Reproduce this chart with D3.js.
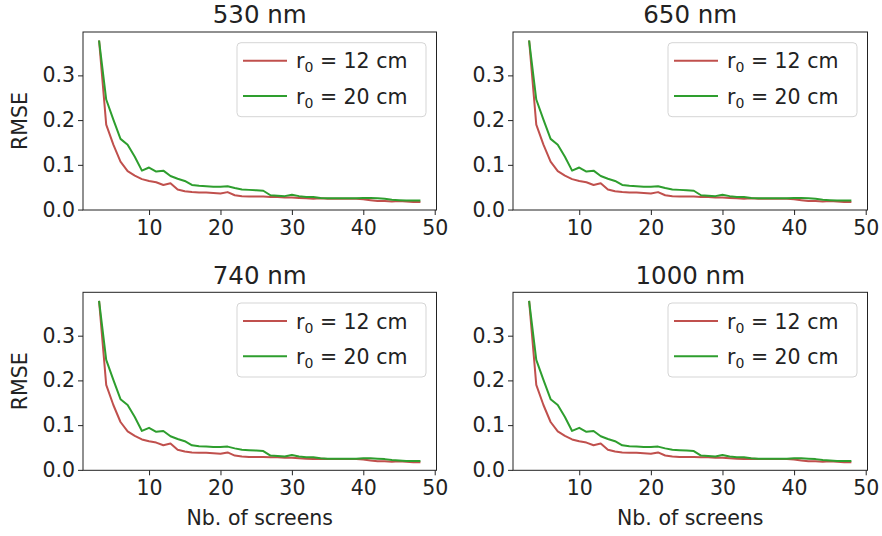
<!DOCTYPE html>
<html>
<head>
<meta charset="utf-8">
<script src="https://cdn.jsdelivr.net/npm/d3@7"></script>
<style>
  html, body { margin: 0; padding: 0; background: #fff; }
  svg { display: block; font-family: "DejaVu Sans", sans-serif; }
</style>
</head>
<body>
<svg id="chart" width="882" height="536"></svg>
<script>
// ---- data ----
const panelTitles = ["530 nm", "650 nm", "740 nm", "1000 nm"];
const screens = d3.range(3, 49); // 3..48
const rmse12 = [0.378, 0.190, 0.145, 0.107, 0.086, 0.076, 0.068, 0.064, 0.061, 0.055,
                0.059, 0.045, 0.041, 0.039, 0.038, 0.038, 0.037, 0.036, 0.039, 0.032,
                0.030, 0.029, 0.029, 0.029, 0.028, 0.028, 0.027, 0.027, 0.026, 0.025,
                0.024, 0.025, 0.024, 0.024, 0.024, 0.024, 0.024, 0.023, 0.021, 0.019,
                0.019, 0.018, 0.019, 0.018, 0.017, 0.017];
const rmse20 = [0.378, 0.246, 0.201, 0.158, 0.145, 0.118, 0.087, 0.094, 0.085, 0.087,
                0.075, 0.069, 0.064, 0.055, 0.053, 0.052, 0.051, 0.051, 0.052, 0.048,
                0.045, 0.044, 0.043, 0.042, 0.032, 0.031, 0.030, 0.033, 0.030, 0.028,
                0.028, 0.026, 0.025, 0.025, 0.025, 0.025, 0.025, 0.026, 0.026, 0.025,
                0.024, 0.022, 0.021, 0.020, 0.020, 0.020];
const seriesLabels = ["12", "20"];
const xTicks = [10, 20, 30, 40, 50];
const yTicks = [0.0, 0.1, 0.2, 0.3];
const xLabel = "Nb. of screens";
const yLabel = "RMSE";

// ---- layout ----
const colors = ["#c0504d", "#2e9e2e"];
const panels = [
  { x0: 83, x1: 436.5, y0: 32, y1: 210 },
  { x0: 513, x1: 867.5, y0: 32, y1: 210 },
  { x0: 83, x1: 436.5, y0: 292.3, y1: 470.3 },
  { x0: 513, x1: 867.5, y0: 292.3, y1: 470.3 }
];
const textColor = "#222";
const fs = 20.5;
const svg = d3.select("#chart");
const seriesData = [rmse12, rmse20];

panels.forEach((p, i) => {
  const x = d3.scaleLinear().domain([0.75, 50.25]).range([p.x0, p.x1]);
  const y = d3.scaleLinear().domain([-0.001, 0.397]).range([p.y1, p.y0]);
  const g = svg.append("g");

  // lines
  const line = d3.line().x((d, j) => x(screens[j])).y(d => y(d));
  seriesData.forEach((s, k) => {
    g.append("path").datum(s)
      .attr("fill", "none")
      .attr("stroke", colors[k])
      .attr("stroke-width", 2)
      .attr("stroke-linejoin", "round")
      .attr("d", line);
  });

  // axes
  const xAxis = d3.axisBottom(x).tickValues(xTicks).tickSize(5).tickPadding(5.5).tickFormat(d3.format("d"));
  const yAxis = d3.axisLeft(y).tickValues(yTicks).tickSize(5).tickPadding(3).tickFormat(d3.format(".1f"));
  const gx = g.append("g").attr("transform", `translate(0,${p.y1})`).call(xAxis);
  const gy = g.append("g").attr("transform", `translate(${p.x0},0)`).call(yAxis);
  [gx, gy].forEach(ax => {
    ax.select(".domain").remove();
    ax.selectAll(".tick line").attr("stroke", textColor).attr("stroke-width", 1);
    ax.selectAll(".tick text").attr("fill", textColor).style("font-size", fs + "px")
      .style("font-family", "DejaVu Sans");
  });

  // frame
  g.append("rect")
    .attr("x", p.x0).attr("y", p.y0)
    .attr("width", p.x1 - p.x0).attr("height", p.y1 - p.y0)
    .attr("fill", "none").attr("stroke", textColor).attr("stroke-width", 1);

  // title
  g.append("text")
    .attr("x", (p.x0 + p.x1) / 2).attr("y", p.y0 - 8.7)
    .attr("text-anchor", "middle").attr("fill", textColor)
    .style("font-size", "24.5px")
    .text(panelTitles[i]);

  // y label (left column)
  if (i % 2 === 0) {
    g.append("text")
      .attr("transform", `translate(${p.x0 - 56.3},${(p.y0 + p.y1) / 2}) rotate(-90)`)
      .attr("text-anchor", "middle").attr("fill", textColor)
      .style("font-size", fs + "px")
      .text(yLabel);
  }
  // x label (bottom row)
  if (i >= 2) {
    g.append("text")
      .attr("x", (p.x0 + p.x1) / 2).attr("y", p.y1 + 54.7)
      .attr("text-anchor", "middle").attr("fill", textColor)
      .style("font-size", fs + "px")
      .text(xLabel);
  }

  // legend
  const lw = 189, lh = 74;
  const lx = p.x1 - 10.5 - lw, ly = p.y0 + 10.7;
  const leg = g.append("g");
  leg.append("rect")
    .attr("x", lx).attr("y", ly).attr("width", lw).attr("height", lh)
    .attr("rx", 4).attr("ry", 4)
    .attr("fill", "#fff").attr("fill-opacity", 0.8)
    .attr("stroke", "#d5d5d5").attr("stroke-width", 1);
  seriesLabels.forEach((lab, k) => {
    const yy = ly + 18 + k * 35.3;
    leg.append("line")
      .attr("x1", lx + 6).attr("x2", lx + 50)
      .attr("y1", yy).attr("y2", yy)
      .attr("stroke", colors[k]).attr("stroke-width", 2);
    const t = leg.append("text")
      .attr("x", lx + 59).attr("y", yy + 7.5)
      .attr("fill", textColor).style("font-size", fs + "px");
    t.append("tspan").text("r");
    t.append("tspan").attr("dy", 4).style("font-size", "14px").text("0");
    t.append("tspan").attr("dy", -4).text(` = ${lab} cm`);
  });
});
</script>
</body>
</html>
